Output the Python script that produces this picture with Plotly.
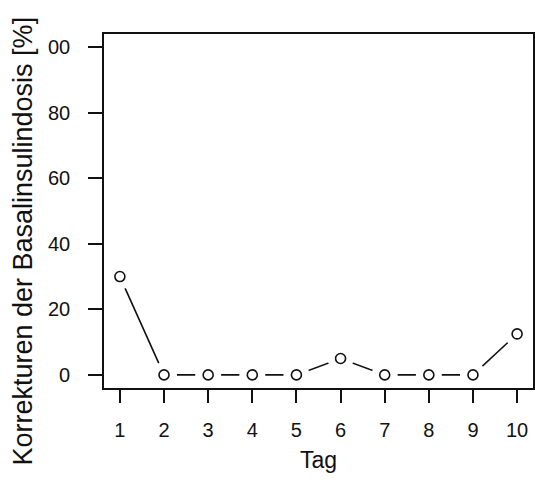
import plotly.graph_objects as go

days = [1, 2, 3, 4, 5, 6, 7, 8, 9, 10]
corrections = [30, 0, 0, 0, 0, 5, 0, 0, 0, 12.5]
ytick_vals = [0, 20, 40, 60, 80, 100]
ytick_text = ["0", "20", "40", "60", "80", "00"]

fig = go.Figure()
# line with white "halo" markers so segments stop short of points (R type="b")
fig.add_trace(go.Scatter(x=days, y=corrections, mode="lines+markers",
                         line=dict(color="#111111", width=1.6),
                         marker=dict(symbol="circle", size=26, color="white",
                                     line=dict(width=0)),
                         showlegend=False, hoverinfo="skip"))
fig.add_trace(go.Scatter(x=days, y=corrections, mode="markers",
                         marker=dict(symbol="circle", size=10, color="white",
                                     line=dict(color="#111111", width=1.6)),
                         showlegend=False))

font = "Liberation Sans, Arial, sans-serif"
fig.update_layout(
    width=535, height=482,
    margin=dict(l=104, r=0, t=34, b=94),
    plot_bgcolor="white", paper_bgcolor="white",
    font=dict(family=font, color="#111111", size=20),
    xaxis=dict(range=[0.64, 10.36], tickmode="array", tickvals=days,
               ticks="outside", ticklen=13, tickwidth=1.6, tickcolor="#111111",
               showline=True, linecolor="#111111", linewidth=1.6, mirror=True,
               showgrid=False, zeroline=False, ticklabelstandoff=10,
               title=dict(text="Tag", font=dict(size=23), standoff=12)),
    yaxis=dict(range=[-4, 104], tickmode="array", tickvals=ytick_vals,
               ticktext=ytick_text,
               ticks="outside", ticklen=14, tickwidth=1.6, tickcolor="#111111",
               showline=True, linecolor="#111111", linewidth=1.6, mirror=True,
               showgrid=False, zeroline=False, ticklabelstandoff=14),
    annotations=[dict(text="Korrekturen der Basalinsulindosis [%]",
                      textangle=-90, showarrow=False,
                      xref="paper", yref="paper", x=0, xshift=-81,
                      y=0.4136, xanchor="center", yanchor="middle",
                      font=dict(size=27))],
)
fig.write_html("out.html",
               config={"displayModeBar": False},
               post_script="document.documentElement.style.margin='0';"
                           "document.documentElement.style.overflow='hidden';"
                           "document.body.style.margin='0';"
                           "document.body.style.padding='0';"
                           "document.body.style.overflow='hidden';")
